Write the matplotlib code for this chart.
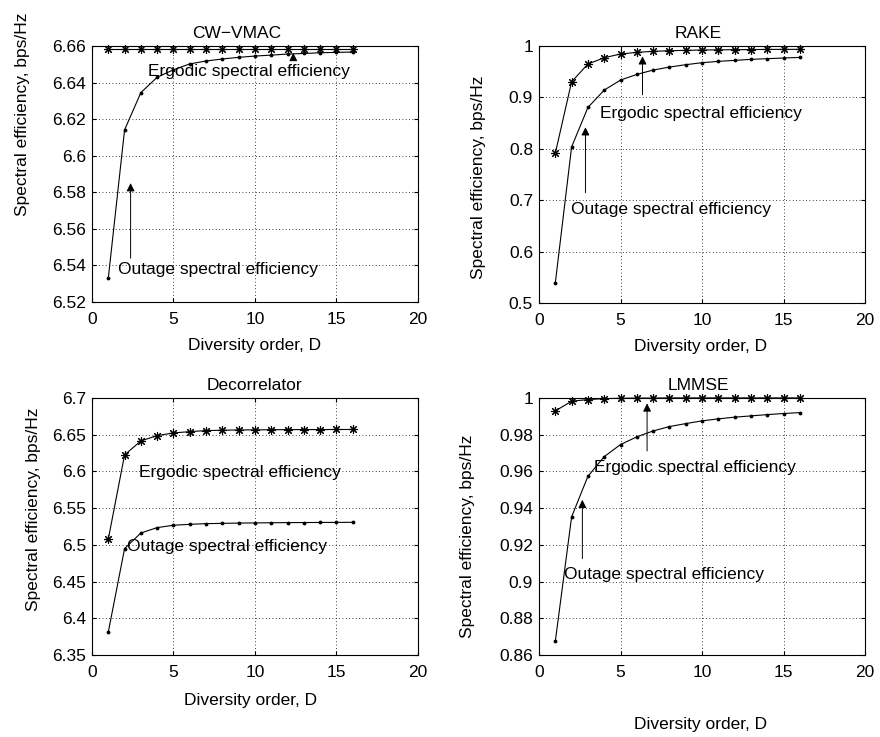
import numpy as np
from matplotlib import pyplot as plt
from matplotlib.ticker import FormatStrFormatter, MultipleLocator

plt.rcParams['font.family'] = ['Liberation Sans', 'DejaVu Sans']

D = np.arange(1, 17)

# CW-VMAC
cw_erg = [6.6582] * 16
cw_out = [6.5329, 6.6141, 6.6345, 6.6429, 6.6470, 6.6502, 6.6518, 6.6529,
          6.6538, 6.6545, 6.6550, 6.6556, 6.6559, 6.6563, 6.6565, 6.6567]

# RAKE
rake_erg = [0.7913, 0.9304, 0.9649, 0.9772, 0.9844, 0.9876, 0.9896, 0.9908,
            0.9915, 0.9922, 0.9925, 0.9928, 0.9931, 0.9933, 0.9934, 0.9935]
rake_out = [0.539, 0.8036, 0.8804, 0.9142, 0.9337, 0.9447, 0.9532, 0.9590,
            0.9636, 0.9675, 0.9701, 0.9720, 0.9740, 0.9753, 0.9766, 0.9778]

# Decorrelator
dec_erg = [6.5075, 6.6224, 6.6414, 6.6487, 6.6523, 6.6541, 6.6555, 6.6560,
           6.6564, 6.6565, 6.6567, 6.6568, 6.6569, 6.6569, 6.6570, 6.6570]
dec_out = [6.3809, 6.4948, 6.5161, 6.5234, 6.5266, 6.5279, 6.5288, 6.5292,
           6.5296, 6.5298, 6.5300, 6.5302, 6.5303, 6.5304, 6.5305, 6.5306]

# LMMSE
lm_erg = [0.9929, 0.9982, 0.9991, 0.9996, 0.9998, 0.9999, 0.9999, 1.0,
          1.0, 1.0, 1.0, 1.0, 1.0, 1.0, 1.0, 1.0]
lm_out = [0.8674, 0.9352, 0.9573, 0.9680, 0.9746, 0.9788, 0.9820, 0.9844,
          0.9860, 0.9875, 0.9886, 0.9895, 0.9902, 0.9909, 0.9915, 0.9920]

titles = ['CW\u2212VMAC', 'RAKE', 'Decorrelator', 'LMMSE']
ylims = [(6.52, 6.66), (0.5, 1.0), (6.35, 6.7), (0.86, 1.0)]
ysteps = [0.02, 0.1, 0.05, 0.02]

fig = plt.figure(figsize=(8.8, 7.37), dpi=100)

# axes rectangles, label / title offsets (axes coords)
rects = [[0.1045, 0.5902, 0.3705, 0.3474],
         [0.6125, 0.5888, 0.3705, 0.3488],
         [0.1045, 0.1113, 0.3705, 0.3488],
         [0.6125, 0.1113, 0.3705, 0.3488]]
ylab_xy = [(-0.19, 0.734), (-0.162, 0.49), (-0.156, 0.568), (-0.196, 0.463)]
xlab_xy = [(0.5, -0.141), (0.494, -0.14), (0.485, -0.148), (0.494, -0.241)]
title_xy = [(0.445, 1.05), (0.488, 1.074), (0.497, 1.05), (0.488, 1.062)]

erg = [cw_erg, rake_erg, dec_erg, lm_erg]
out = [cw_out, rake_out, dec_out, lm_out]

# text positions (data coords) and arrows (tail, head)
erg_txt = [(3.45, 6.646), (3.73, 0.869), (2.9, 6.599), (3.36, 0.962)]
out_txt = [(1.61, 6.5377), (1.94, 0.681), (2.12, 6.498), (1.54, 0.904)]
erg_arrow = [((12.35, 6.6535), (12.35, 6.6562)), ((6.35, 0.905), (6.35, 0.980)),
             None, ((6.63, 0.9711), (6.63, 0.9970))]
out_arrow = [((2.37, 6.544), (2.37, 6.585)), ((2.85, 0.7146), (2.85, 0.842)),
             None, ((2.66, 0.9125), (2.66, 0.9445))]

star = (8, 2, 0)
fs = 12.5

for i in range(4):
    ax = fig.add_axes(rects[i])
    ax.plot(D, erg[i], color='k', lw=0.8, marker=star, ms=6.5, mew=0.8, clip_on=False)
    ax.plot(D, out[i], color='k', lw=0.8, marker='.', ms=3.5, clip_on=False)
    ax.set_xlim(0, 20)
    ax.set_ylim(*ylims[i])
    ax.xaxis.set_major_locator(MultipleLocator(5))
    ax.yaxis.set_major_locator(MultipleLocator(ysteps[i]))
    ax.yaxis.set_major_formatter(FormatStrFormatter('%g'))
    ax.grid(True, linestyle=(0, (1, 3)), color='k', lw=0.6)
    ax.tick_params(direction='in', length=3, top=True, right=True, labelsize=fs)
    ax.tick_params(axis='x', pad=7.5)
    ax.tick_params(axis='y', pad=4.3)
    for s in ax.spines.values():
        s.set_linewidth(0.8)
    ax.set_title(titles[i], fontsize=fs)
    ax.title.set_position(title_xy[i])
    ax.set_ylabel('Spectral efficiency, bps/Hz', fontsize=fs)
    ax.yaxis.set_label_coords(*ylab_xy[i])
    ax.set_xlabel('Diversity order, D', fontsize=fs)
    ax.xaxis.set_label_coords(*xlab_xy[i])

    ax.text(erg_txt[i][0], erg_txt[i][1], 'Ergodic spectral efficiency',
            fontsize=fs, va='center', ha='left')
    ax.text(out_txt[i][0], out_txt[i][1], 'Outage spectral efficiency',
            fontsize=fs, va='center', ha='left')
    for arr in (erg_arrow[i], out_arrow[i]):
        if arr is None:
            continue
        ax.annotate('', xy=arr[1], xytext=arr[0],
                    arrowprops=dict(arrowstyle='-|>', color='k', lw=0.7,
                                    mutation_scale=12, shrinkA=0, shrinkB=0))

fig.savefig('out.png', dpi=100)
